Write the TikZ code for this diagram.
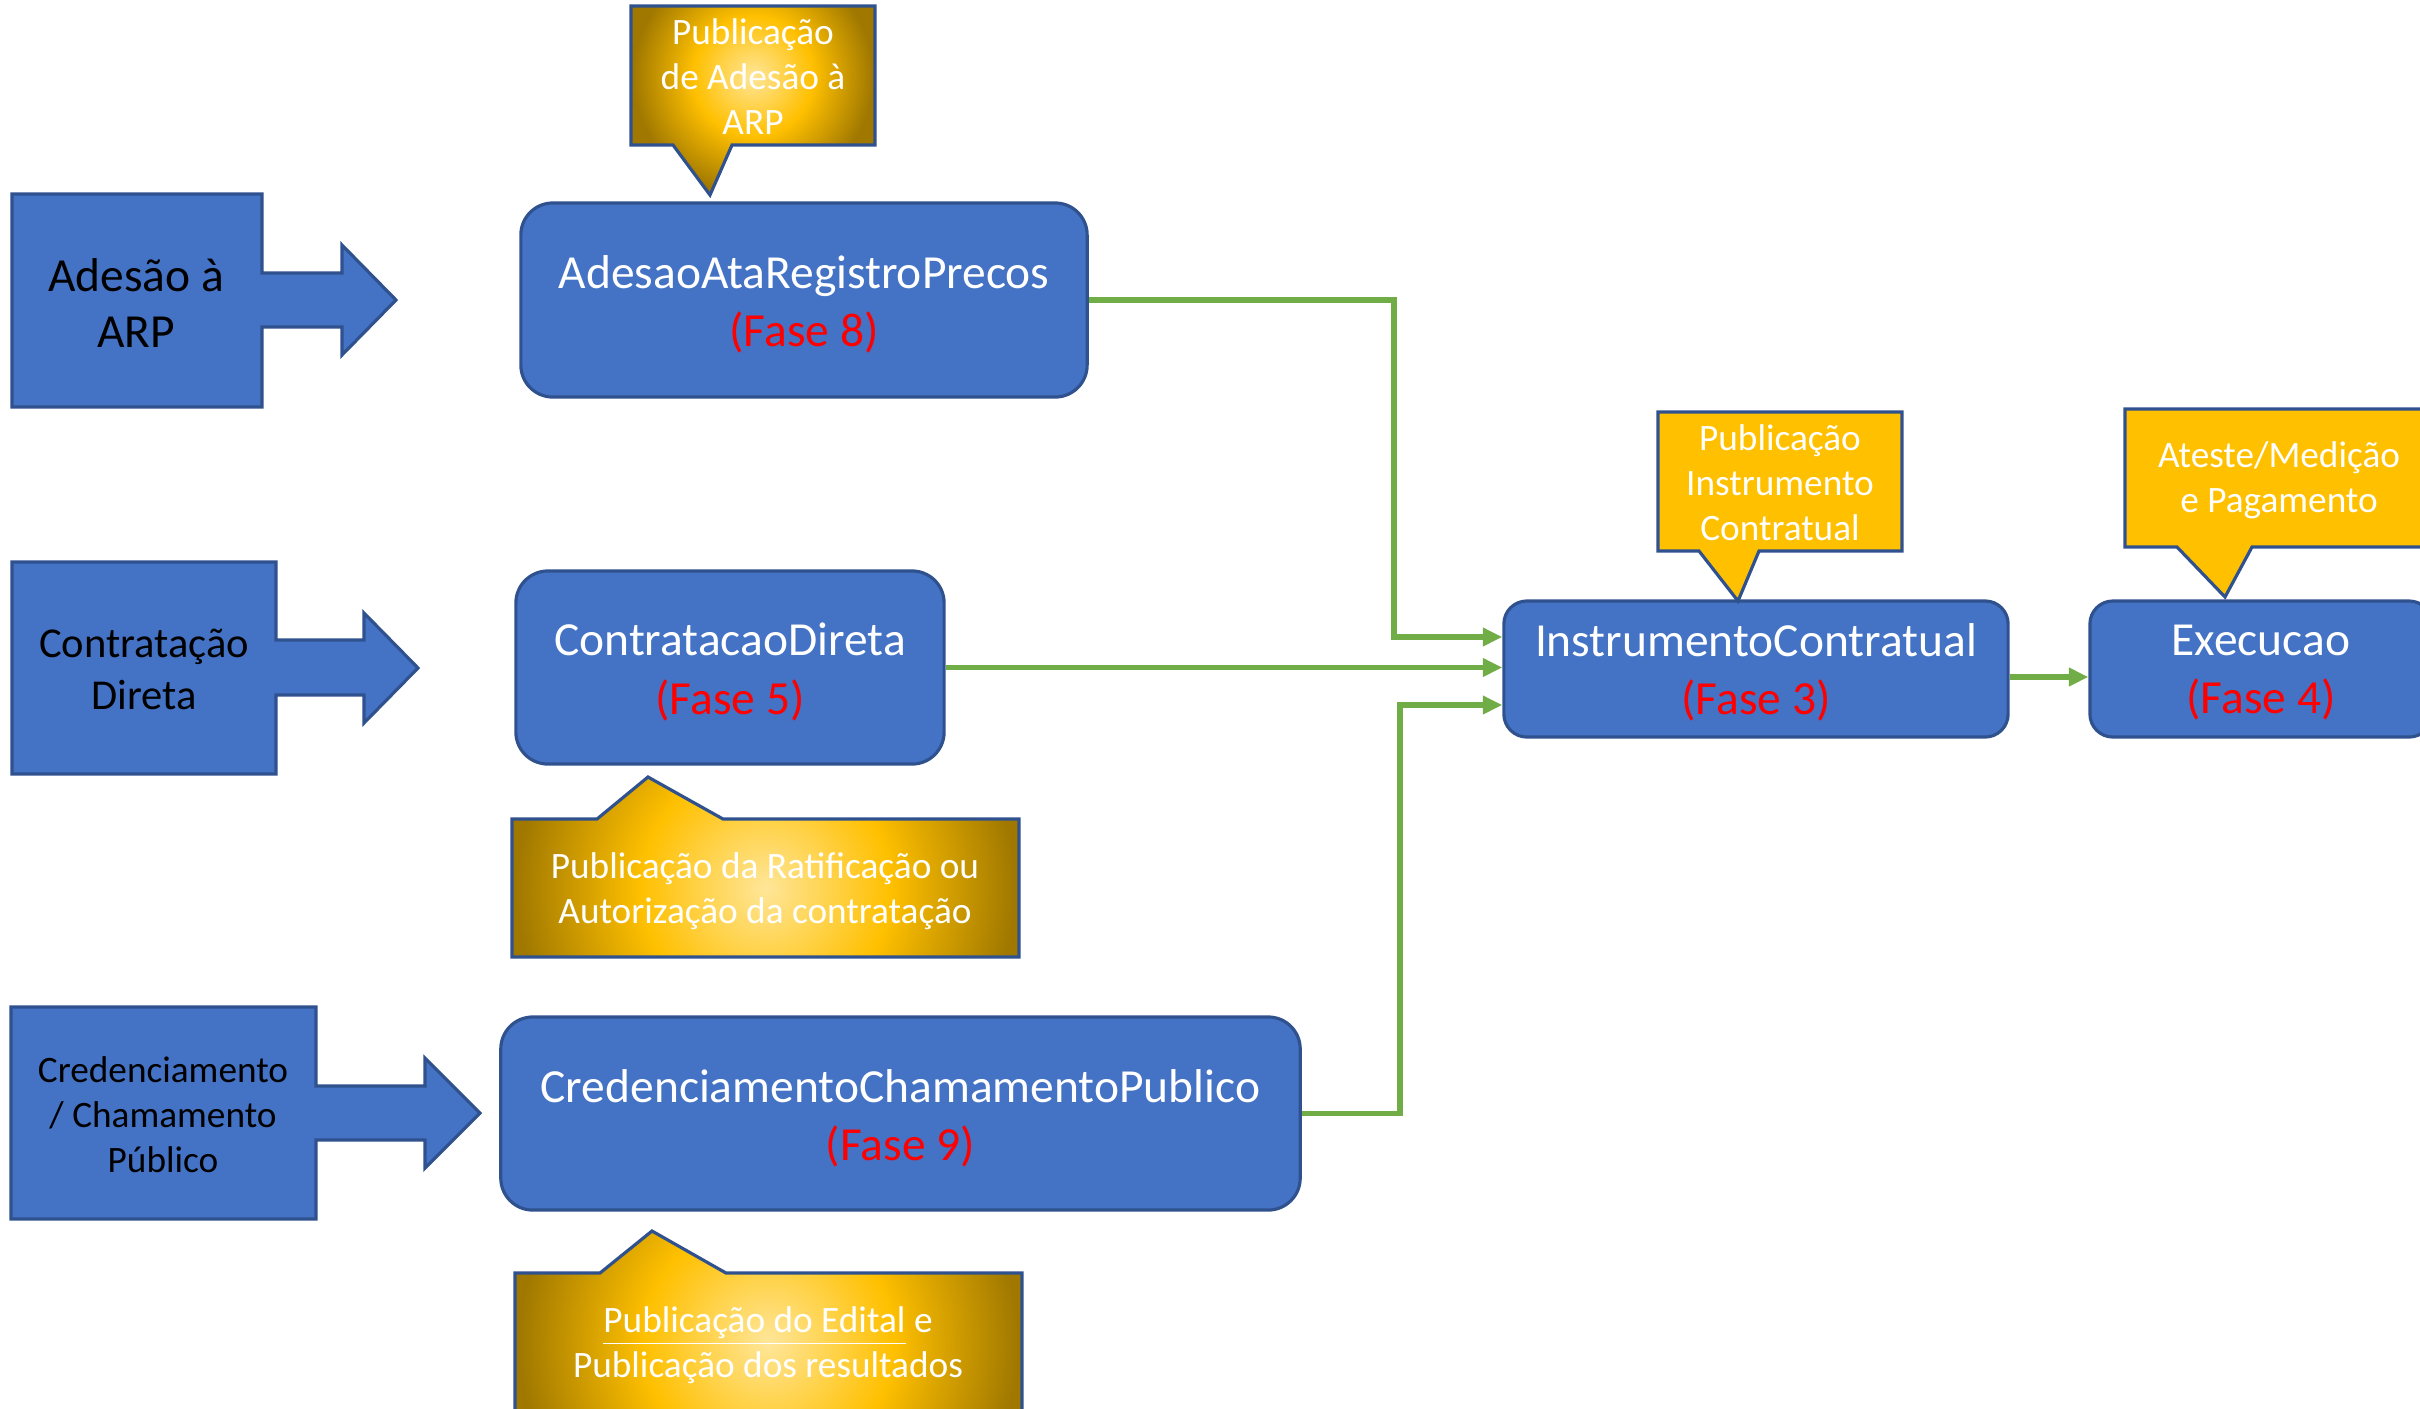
\documentclass[tikz,border=0pt]{standalone}
\usepackage{fontspec}
\setmainfont{Carlito}
\usetikzlibrary{arrows.meta}
\definecolor{boxblue}{HTML}{4472C4}
\definecolor{boxborder}{HTML}{2F528F}
\definecolor{linkgreen}{HTML}{70AD47}
\definecolor{goldmain}{HTML}{FFC000}
\definecolor{goldlight}{HTML}{FFE699}
\definecolor{golddark}{HTML}{A07800}
\definecolor{fasered}{HTML}{FF0000}
\pgfdeclareradialshading{goldrad}{\pgfpointorigin}{color(0bp)=(goldlight); color(12bp)=(goldmain); color(24bp)=(golddark); color(50bp)=(golddark)}
\begin{document}
\begin{tikzpicture}[x=0.01cm,y=-0.01cm,
  blueshape/.style={fill=boxblue,draw=boxborder,line width=0.9pt,line join=miter},
  lefttext/.style={text=black,align=center,inner sep=0pt},
  phasebox/.style={rectangle,fill=boxblue,draw=boxborder,line width=0.9pt,inner sep=0pt},
  phasetext/.style={text=white,align=center,inner sep=0pt,font=\fontsize{13.5}{16.6}\selectfont},
  callflat/.style={fill=goldmain,draw=boxborder,line width=0.9pt},
  callgrad/.style={fill=golddark,draw=boxborder,line width=0.9pt},
  calltext/.style={text=white,align=center,inner sep=0pt,font=\fontsize{10.6}{12.8}\selectfont},
  conn/.style={draw=linkgreen,line width=1.5pt,-{Triangle[length=5.5pt,width=5pt]}},
]
\useasboundingbox (0,0) rectangle (2420,1408);

% ---------- left arrow shapes ----------
\path[blueshape] (12,194) -- (262,194) -- (262,273) -- (342,273) -- (342,245) -- (396,300) -- (342,355) -- (342,327) -- (262,327) -- (262,407) -- (12,407) -- cycle;
\node[lefttext,font=\fontsize{13.5}{16}\selectfont] (l1) at (136,303) {Adesão à\\ARP};

\path[blueshape] (12,562) -- (276,562) -- (276,640) -- (364,640) -- (364,613) -- (418,668) -- (364,723) -- (364,695) -- (276,695) -- (276,774) -- (12,774) -- cycle;
\node[lefttext,font=\fontsize{12.1}{14.8}\selectfont] (l2) at (144,669) {Contratação\\Direta};

\path[blueshape] (11,1007) -- (316,1007) -- (316,1086) -- (425,1086) -- (425,1058) -- (480,1113) -- (425,1168) -- (425,1140) -- (316,1140) -- (316,1219) -- (11,1219) -- cycle;
\node[lefttext,font=\fontsize{10.6}{12.8}\selectfont] (l3) at (163,1115) {Credenciamento\\/ Chamamento\\Público};

% ---------- phase boxes ----------
\node[phasebox,rounded corners=0.32cm,minimum width=5.66cm,minimum height=1.94cm] (b1) at (804,300) {};
\node[phasetext] (t1) at ([yshift=-1.3pt]b1.center) {AdesaoAtaRegistroPrecos\\\textcolor{fasered}{(Fase 8)}};
\node[phasebox,rounded corners=0.32cm,minimum width=4.28cm,minimum height=1.93cm] (b2) at (730,667.5) {};
\node[phasetext] (t2) at ([yshift=-1.3pt]b2.center) {ContratacaoDireta\\\textcolor{fasered}{(Fase 5)}};
\node[phasebox,rounded corners=0.32cm,minimum width=7.99cm,minimum height=1.93cm] (b3) at (900.5,1113.5) {};
\node[phasetext] (t3) at ([yshift=-1.3pt]b3.center) {CredenciamentoChamamentoPublico\\\textcolor{fasered}{(Fase 9)}};
\node[phasebox,rounded corners=0.23cm,minimum width=5.04cm,minimum height=1.36cm] (b4) at (1756,669) {};
\node[phasetext] (t4) at ([yshift=-1.0pt]b4.center) {InstrumentoContratual\\\textcolor{fasered}{(Fase 3)}};
\node[phasebox,rounded corners=0.23cm,minimum width=3.42cm,minimum height=1.36cm] (b5) at (2261,669) {};
\node[phasetext] (t5) at ([yshift=-1.0pt]b5.center) {Execucao\\\textcolor{fasered}{(Fase 4)}};

% ---------- callouts ----------
\path[callgrad,path picture={\shade[shading=goldrad] (753,76) circle (1.25cm);}]
  (631,6) -- (875,6) -- (875,145) -- (732,145) -- (710,195) -- (673,145) -- (631,145) -- cycle;
\node[calltext] (c1) at (753,77) {Publicação\\de Adesão à\\ARP};

\path[callgrad,path picture={\shade[shading=goldrad] (765.5,888) circle (2.6cm);}]
  (512,819) -- (597,819) -- (648,777) -- (723,819) -- (1019,819) -- (1019,957) -- (512,957) -- cycle;
\node[calltext] (c2) at (765,891) {Publicação da Ratificação ou\\Autorização da contratação};

\path[callgrad,path picture={\shade[shading=goldrad] (768.5,1342) circle (2.6cm);}]
  (515,1273) -- (600,1273) -- (652,1231) -- (726,1273) -- (1022,1273) -- (1022,1412) -- (515,1412) -- cycle;
\node[calltext] (c3) at (768,1345) {\underline{Publicação do Edital} e\\Publicação dos resultados};

\path[callflat] (1658,412) -- (1902,412) -- (1902,551) -- (1759,551) -- (1738,601) -- (1699,551) -- (1658,551) -- cycle;
\node[calltext] (c4) at (1780,483) {Publicação\\Instrumento\\Contratual};

\path[callflat] (2125,409) -- (2440,409) -- (2440,547) -- (2252,547) -- (2225,597) -- (2177,547) -- (2125,547) -- cycle;
\node[calltext] (c5) at (2279,480) {Ateste/Medição\\e Pagamento};

% ---------- connectors ----------
\coordinate (j1) at (1394,637);
\coordinate (j3) at (1400,705);
\coordinate (j4) at (2050,677);
\draw[conn] (b1.east) -| (j1) -- (j1 -| b4.west);
\draw[conn] (b2.east) -- (b2.east -| b4.west);
\draw[conn] (b3.east) -| (j3) -- (j3 -| b4.west);
\draw[conn] (j4 -| b4.east) -- (j4 -| b5.west);
\end{tikzpicture}
\end{document}
